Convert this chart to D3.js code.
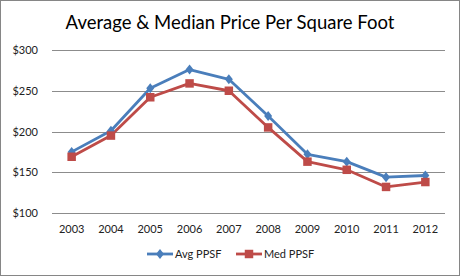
<!DOCTYPE html>
<html>
<head>
<meta charset="utf-8">
<script src="https://cdn.jsdelivr.net/npm/d3@7"></script>
<style>
  html, body { margin: 0; padding: 0; background: #fff; }
  svg { display: block; font-family: Lato, "Open Sans", sans-serif; }
</style>
</head>
<body>
<div id="chart"></div>
<script>
const years = ["2003","2004","2005","2006","2007","2008","2009","2010","2011","2012"];
const avgPPSF = [175, 201, 253, 276, 264, 219, 172, 163, 144, 146];
const medPPSF = [169, 195, 242, 259, 250, 205, 163, 153, 132, 138];
const yTicks = [100, 150, 200, 250, 300];

const W = 460, H = 276;
const m = { t: 50, r: 15, b: 63, l: 52 };
const svg = d3.select("#chart").append("svg").attr("width", W).attr("height", H);

svg.append("rect").attr("x", 0.5).attr("y", 0.5).attr("width", W - 1).attr("height", H - 1)
  .attr("fill", "#fff").attr("stroke", "#868686");

svg.append("text").attr("x", 230).attr("y", 29).attr("text-anchor", "middle")
  .style("font-size", "18.5px").attr("fill", "#000").text("Average & Median Price Per Square Foot");

const x = d3.scaleBand().domain(years).range([m.l, W - m.r]);
const y = d3.scaleLinear().domain([100, 300]).range([H - m.b, m.t]);

const grid = svg.append("g");
yTicks.forEach(t => {
  grid.append("line").attr("x1", m.l).attr("x2", W - m.r)
    .attr("y1", Math.round(y(t)) + 0.5).attr("y2", Math.round(y(t)) + 0.5)
    .attr("stroke", "#8c8c8c").attr("stroke-width", 1);
  grid.append("text").attr("x", 38).attr("y", y(t) + 4).attr("text-anchor", "end")
    .style("font-size", "11px").attr("fill", "#222").text("$" + t);
});

years.forEach(yr => {
  svg.append("text").attr("x", x(yr) + x.bandwidth() / 2).attr("y", y(100) + 20)
    .attr("text-anchor", "middle").style("font-size", "11px").attr("fill", "#222").text(yr);
});

// Excel-style diamond: narrower than tall
const excelDiamond = {
  draw(ctx, size) {
    const h = Math.sqrt(size) * 0.72, w = h * 0.8;
    ctx.moveTo(0, -h); ctx.lineTo(w, 0); ctx.lineTo(0, h); ctx.lineTo(-w, 0); ctx.closePath();
  }
};

const cx = d => x(d) + x.bandwidth() / 2;
const series = [
  { vals: avgPPSF, col: "#4a7ebb", sym: excelDiamond, size: 48, name: "Avg PPSF" },
  { vals: medPPSF, col: "#be4b48", sym: d3.symbolSquare, size: 72, name: "Med PPSF" }
];

series.forEach(s => {
  const line = d3.line().x((d, i) => cx(years[i])).y(d => y(d));
  svg.append("path").datum(s.vals).attr("d", line).attr("fill", "none")
    .attr("stroke", s.col).attr("stroke-width", 2.8).attr("stroke-linejoin", "round");
});
series.forEach(s => {
  s.vals.forEach((v, i) => {
    svg.append("path").attr("d", d3.symbol().type(s.sym).size(s.size)())
      .attr("transform", `translate(${cx(years[i])},${y(v)})`).attr("fill", s.col);
  });
});

// legend
const leg = [{ x: 147, s: series[0] }, { x: 236, s: series[1] }];
leg.forEach(l => {
  const g = svg.append("g").attr("transform", `translate(${l.x},254)`);
  g.append("line").attr("x1", 0).attr("x2", 26).attr("y1", 0).attr("y2", 0)
    .attr("stroke", l.s.col).attr("stroke-width", 2.8);
  g.append("path").attr("d", d3.symbol().type(l.s.sym).size(l.s.size)())
    .attr("transform", "translate(13,0)").attr("fill", l.s.col);
  g.append("text").attr("x", 28).attr("y", 4).style("font-size", "11px").attr("fill", "#222").text(l.s.name);
});
</script>
</body>
</html>
